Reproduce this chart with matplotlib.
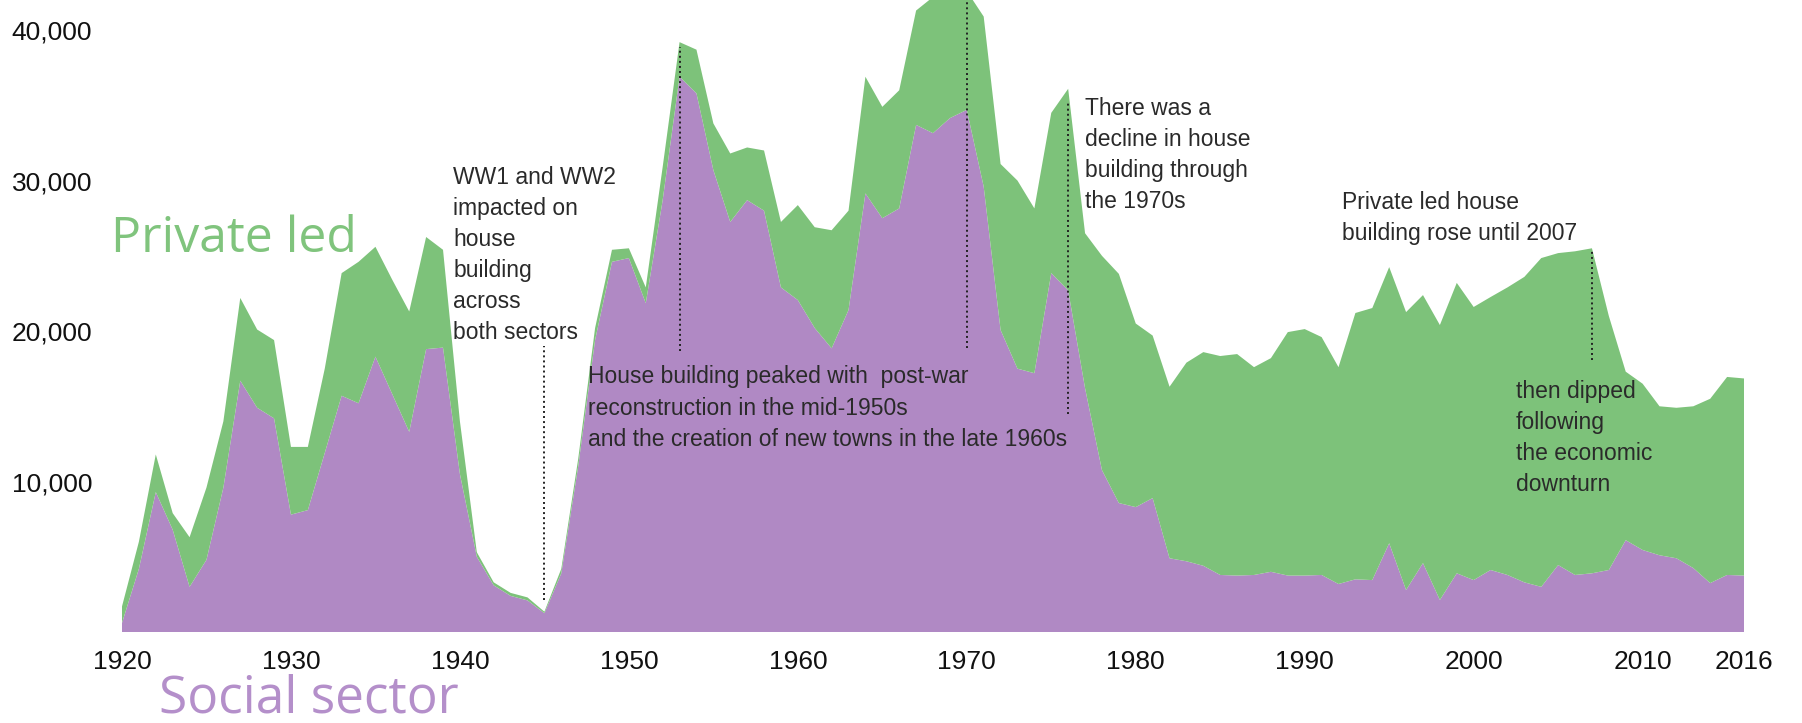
import matplotlib
matplotlib.use("Agg")
import matplotlib.pyplot as plt

# Annual completions, social sector and private led (stacked on top)
years = list(range(1920, 2017))
social = [
    600, 4200, 9300, 6800, 3000, 4800, 9600, 16700, 14900, 14200,      # 1920s
    7800, 8100, 11900, 15700, 15200, 18300, 15800, 13300, 18800, 18900,  # 1930s
    10500, 5000, 3100, 2400, 2100, 1250, 3900, 11000, 19400, 24600,      # 1940s
    24850, 21850, 28700, 36900, 35800, 30700, 27250, 28700, 28000, 22900,  # 1950s
    22060, 20200, 18850, 21400, 29150, 27500, 28150, 33700, 33150, 34150,  # 1960s
    34700, 29600, 20070, 17500, 17200, 23850, 22700, 16200, 10760, 8570,   # 1970s
    8300, 8900, 4900, 4700, 4400, 3790, 3750, 3790, 4000, 3750,            # 1980s
    3750, 3790, 3190, 3500, 3450, 5900, 2790, 4580, 2130, 3900,            # 1990s
    3450, 4120, 3790, 3300, 3000, 4450, 3790, 3900, 4120, 6100,            # 2000s
    5450, 5100, 4900, 4250, 3250, 3790, 3750,                              # 2010-2016
]
private = [
    1100, 1800, 2500, 1100, 3300, 4800, 4400, 5500, 5200, 5200,
    4500, 4200, 5600, 8150, 9400, 7300, 7600, 8000, 7450, 6500,
    3500, 300, 200, 200, 200, 100, 300, 500, 800, 800,
    650, 1050, 2200, 2300, 2900, 3100, 4550, 3500, 4000, 4350,
    6310, 6700, 7850, 6600, 7750, 7400, 7850, 7600, 9050, 8650,
    7900, 11300, 11030, 12500, 10950, 10650, 13400, 10300, 14240, 15230,
    12200, 10800, 11400, 13200, 14200, 14550, 14720, 13810, 14200, 16180,
    16380, 15810, 14410, 17700, 18080, 18350, 18470, 17810, 18270, 19300,
    18150, 18140, 19110, 20300, 21850, 20730, 21510, 21600, 16880, 11200,
    11050, 9900, 10000, 10750, 12250, 13160, 13100,
]

x_ticks = [1920, 1930, 1940, 1950, 1960, 1970, 1980, 1990, 2000, 2010, 2016]
y_ticks = [10000, 20000, 30000, 40000]

# dotted guide lines: year, bottom, top
guides = [
    (1945, 2100, 19000),
    (1953, 18700, 38900),
    (1970, 18900, 42000),
    (1976, 14500, 35300),
    (2007, 18100, 25400),
]

notes = [
    (1939.6, 25050, "WW1 and WW2\nimpacted on\nhouse\nbuilding\nacross\nboth sectors"),
    (1947.6, 14880, "House building peaked with  post-war\nreconstruction in the mid-1950s\n"
                    "and the creation of new towns in the late 1960s"),
    (1977.0, 31700, "There was a\ndecline in house\nbuilding through\nthe 1970s"),
    (1992.2, 27500, "Private led house\nbuilding rose until 2007"),
    (2002.5, 12900, "then dipped\nfollowing\nthe economic\ndownturn"),
]

green = "#7dc27a"
purple = "#b089c4"

fig = plt.figure(figsize=(18.02, 7.23), dpi=100)
ax = fig.add_axes([122 / 1802, 91 / 723, 1622 / 1802, 632 / 723])

ax.stackplot(years, social, private, colors=[purple, green], linewidth=0)
ax.set_xlim(1920, 2016)
ax.set_ylim(0, 42000)

for s in ax.spines.values():
    s.set_visible(False)

tick_font = "Liberation Sans"
ax.set_xticks(x_ticks)
ax.set_xticklabels([str(t) for t in x_ticks], family=tick_font, fontsize=19, color="#111111")
ax.set_yticks(y_ticks)
ax.set_yticklabels([f"{t:,}" for t in y_ticks], family=tick_font, fontsize=19, color="#111111")
ax.tick_params(axis="x", length=0, pad=13)
ax.tick_params(axis="y", length=0, pad=21.5)

for yr, lo, hi in guides:
    ax.vlines(yr, lo, hi, colors="#222222", linewidth=1.4, linestyles=(0, (1, 1.6)), zorder=3)

for x, y, txt in notes:
    ax.text(x, y, txt, ha="left", va="center", fontsize=16.5, family="Liberation Sans",
            color="#2a2a2a", linespacing=1.45, zorder=4)

ax.text(1919.35, 25250, "Private led", ha="left", va="baseline", fontsize=36,
        family="Open Sans", color="#80c47d")
ax.text(1922.2, -5350, "Social sector", ha="left", va="baseline", fontsize=37,
        family="Open Sans", color="#b48fca")

fig.savefig("out.png", dpi=100)
